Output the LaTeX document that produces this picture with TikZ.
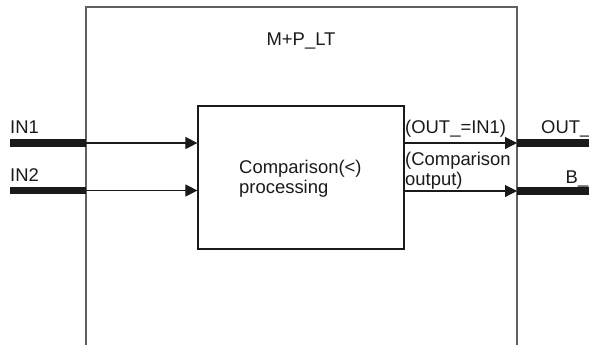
\documentclass[tikz,border=0pt]{standalone}
\usepackage{fontspec}
\setmainfont{Liberation Sans}
\usetikzlibrary{arrows.meta}
\definecolor{frame}{HTML}{606060}
\definecolor{ink}{HTML}{1A1A1A}
\begin{document}
\begin{tikzpicture}[x=1bp,y=-1bp,
  lbl/.style={inner sep=0pt,anchor=base west,text=ink,font=\fontsize{18.5}{21}\selectfont},
  bus/.style={line width=7.5bp,ink},
  sig/.style={line width=1.1bp,ink,-{Triangle[length=12bp,width=12bp]}},
  procbox/.style={draw=ink,line width=1.2bp,minimum width=206bp,minimum height=143bp,inner sep=0pt}]
\useasboundingbox (0,0) rectangle (589,345);
% outer frame (open bottom)
\draw[frame,line width=2bp] (86,345) -- (86,6.5) -- (517,6.5) -- (517,345);
\node[lbl,anchor=base] (title) at (301,45) {M+P\_LT};
% inner processing box
\node[procbox] (proc) at (301,177.5) {};
\node[lbl] (ptext) at (239,173) {Comparison(<)};
\node[lbl] (ptext2) at (239,193) {processing};
% coordinates
\coordinate (in1s) at (10,143);
\coordinate (in1f) at (86,143);
\coordinate (in2s) at (10,190.5);
\coordinate (in2f) at (86,190.5);
\coordinate (o1f) at (517,143);
\coordinate (o1e) at (589,143);
\coordinate (o2f) at (517,191);
\coordinate (o2e) at (589,191);
% input buses
\draw[bus] (in1s) -- (in1f);
\draw[bus] (in2s) -- (in2f);
\draw[sig] (in1f) -- (proc.west |- in1f);
\draw[sig] (in2f) -- (proc.west |- in2f);
% output
\draw[sig] (proc.east |- o1f) -- (o1f);
\draw[sig] (proc.east |- o2f) -- (o2f);
\draw[bus] (o1f) -- (o1e);
\draw[bus] (o2f) -- (o2e);
% labels
\node[lbl] (lin1) at (10,133) {IN1};
\node[lbl] (lin2) at (10,181) {IN2};
\node[lbl] (lout) at (541,133) {OUT\_};
\node[lbl] (lb) at (565.5,183) {B\_};
\node[lbl] (eq) at (405,133) {(OUT\_=IN1)};
\node[lbl] (co1) at (405,165) {(Comparison};
\node[lbl] (co2) at (405,185) {output)};
\end{tikzpicture}
\end{document}
